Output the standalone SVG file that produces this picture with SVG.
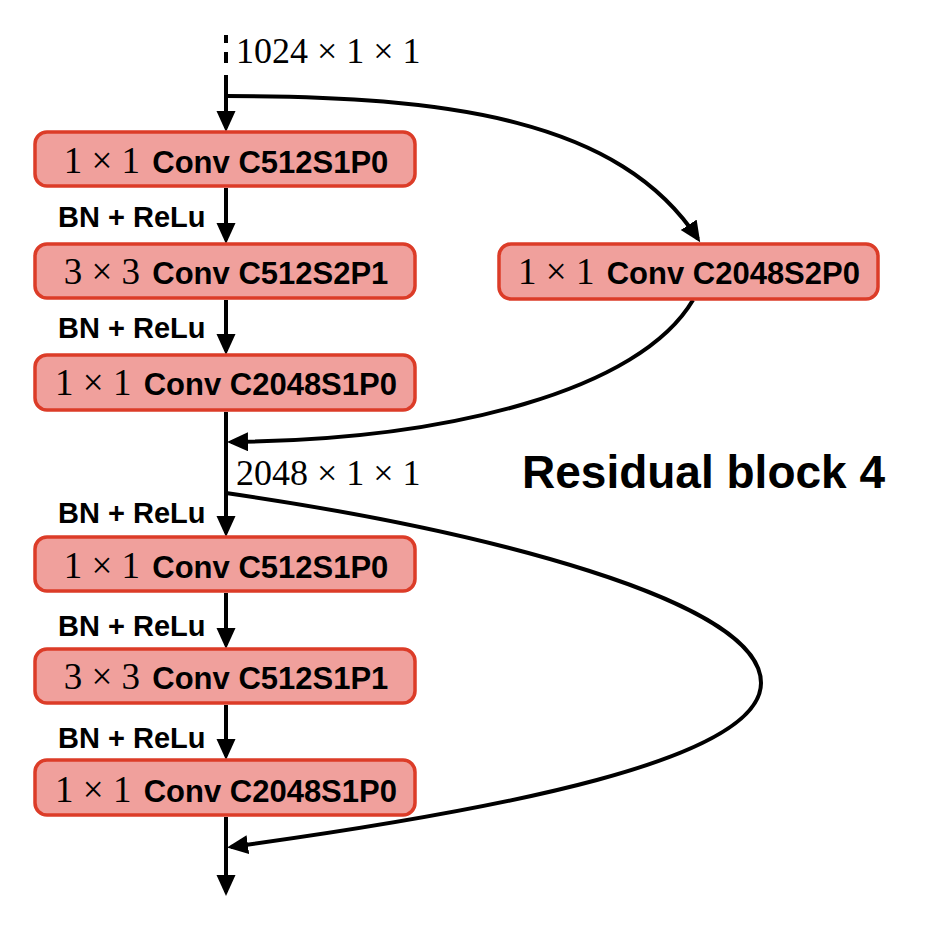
<svg xmlns="http://www.w3.org/2000/svg" width="934" height="926" viewBox="0 0 934 926">
<style>
.box{fill:#f0a09c;stroke:#dc3c28;stroke-width:3.5}
.c{fill:none;stroke:#000;stroke-width:4}
.m{font-family:"Liberation Serif",serif;font-size:37px}
.b{font-family:"Liberation Sans",Arial,sans-serif;font-weight:bold;font-size:31px}
.lbl{font-family:"Liberation Sans",Arial,sans-serif;font-weight:bold;font-size:29px}
.dim{font-family:"Liberation Serif",serif;font-size:36px}
</style>
<defs>
<marker id="ah" markerUnits="userSpaceOnUse" markerWidth="22" markerHeight="20" refX="17" refY="9.5" orient="auto">
<path d="M0,0 L21,9.5 L0,19 z" fill="#000"/>
</marker>
</defs>
<rect width="934" height="926" fill="#fff"/>
<g id="connectors">
<path class="c" d="M226 35 L226 128" stroke-dasharray="8 9 11 12 200 0" marker-end="url(#ah)"/>
<path class="c" d="M226 188 L226 240" marker-end="url(#ah)"/>
<path class="c" d="M226 300 L226 351" marker-end="url(#ah)"/>
<path class="c" d="M226 412 L226 533" marker-end="url(#ah)"/>
<path class="c" d="M226 593 L226 645" marker-end="url(#ah)"/>
<path class="c" d="M226 705 L226 756" marker-end="url(#ah)"/>
<path class="c" d="M226 817 L226 892" marker-end="url(#ah)"/>
<path class="c" d="M226 96 C450 96 620 120 698 239" marker-end="url(#ah)"/>
<path class="c" d="M693 300 C640 390 450 440 231 442" marker-end="url(#ah)"/>
<path class="c" d="M226 493 C480 530 761 600 761 683 C761 760 500 810 231 847" marker-end="url(#ah)"/>
</g>
<g id="n1"><rect class="box" x="35" y="132" width="380" height="54" rx="12"/>
<text x="226" y="173" text-anchor="middle"><tspan class="m">1 × 1 </tspan><tspan class="b" dx="3">Conv C512S1P0</tspan></text></g>
<g id="n2"><rect class="box" x="35" y="244" width="380" height="54" rx="12"/>
<text x="226" y="284" text-anchor="middle"><tspan class="m">3 × 3 </tspan><tspan class="b" dx="3">Conv C512S2P1</tspan></text></g>
<g id="n3"><rect class="box" x="35" y="355" width="380" height="55" rx="12"/>
<text x="226" y="395" text-anchor="middle"><tspan class="m">1 × 1 </tspan><tspan class="b" dx="3">Conv C2048S1P0</tspan></text></g>
<g id="n4"><rect class="box" x="499" y="244" width="379" height="55" rx="12"/>
<text x="689" y="284" text-anchor="middle"><tspan class="m">1 × 1 </tspan><tspan class="b" dx="3">Conv C2048S2P0</tspan></text></g>
<g id="n5"><rect class="box" x="35" y="537" width="380" height="54" rx="12"/>
<text x="226" y="578" text-anchor="middle"><tspan class="m">1 × 1 </tspan><tspan class="b" dx="3">Conv C512S1P0</tspan></text></g>
<g id="n6"><rect class="box" x="35" y="649" width="380" height="54" rx="12"/>
<text x="226" y="689" text-anchor="middle"><tspan class="m">3 × 3 </tspan><tspan class="b" dx="3">Conv C512S1P1</tspan></text></g>
<g id="n7"><rect class="box" x="35" y="760" width="380" height="55" rx="12"/>
<text x="226" y="802" text-anchor="middle"><tspan class="m">1 × 1 </tspan><tspan class="b" dx="3">Conv C2048S1P0</tspan></text></g>
<g id="labels">
<text class="lbl" x="58" y="227">BN + ReLu</text>
<text class="lbl" x="58" y="338">BN + ReLu</text>
<text class="lbl" x="58" y="523">BN + ReLu</text>
<text class="lbl" x="58" y="636">BN + ReLu</text>
<text class="lbl" x="58" y="748">BN + ReLu</text>
<text class="dim" x="236" y="63">1024 × 1 × 1</text>
<text class="dim" x="236" y="485">2048 × 1 × 1</text>
<text x="522" y="488" font-family="Liberation Sans, Arial, sans-serif" font-weight="bold" font-size="46">Residual block 4</text>
</g>
</svg>
